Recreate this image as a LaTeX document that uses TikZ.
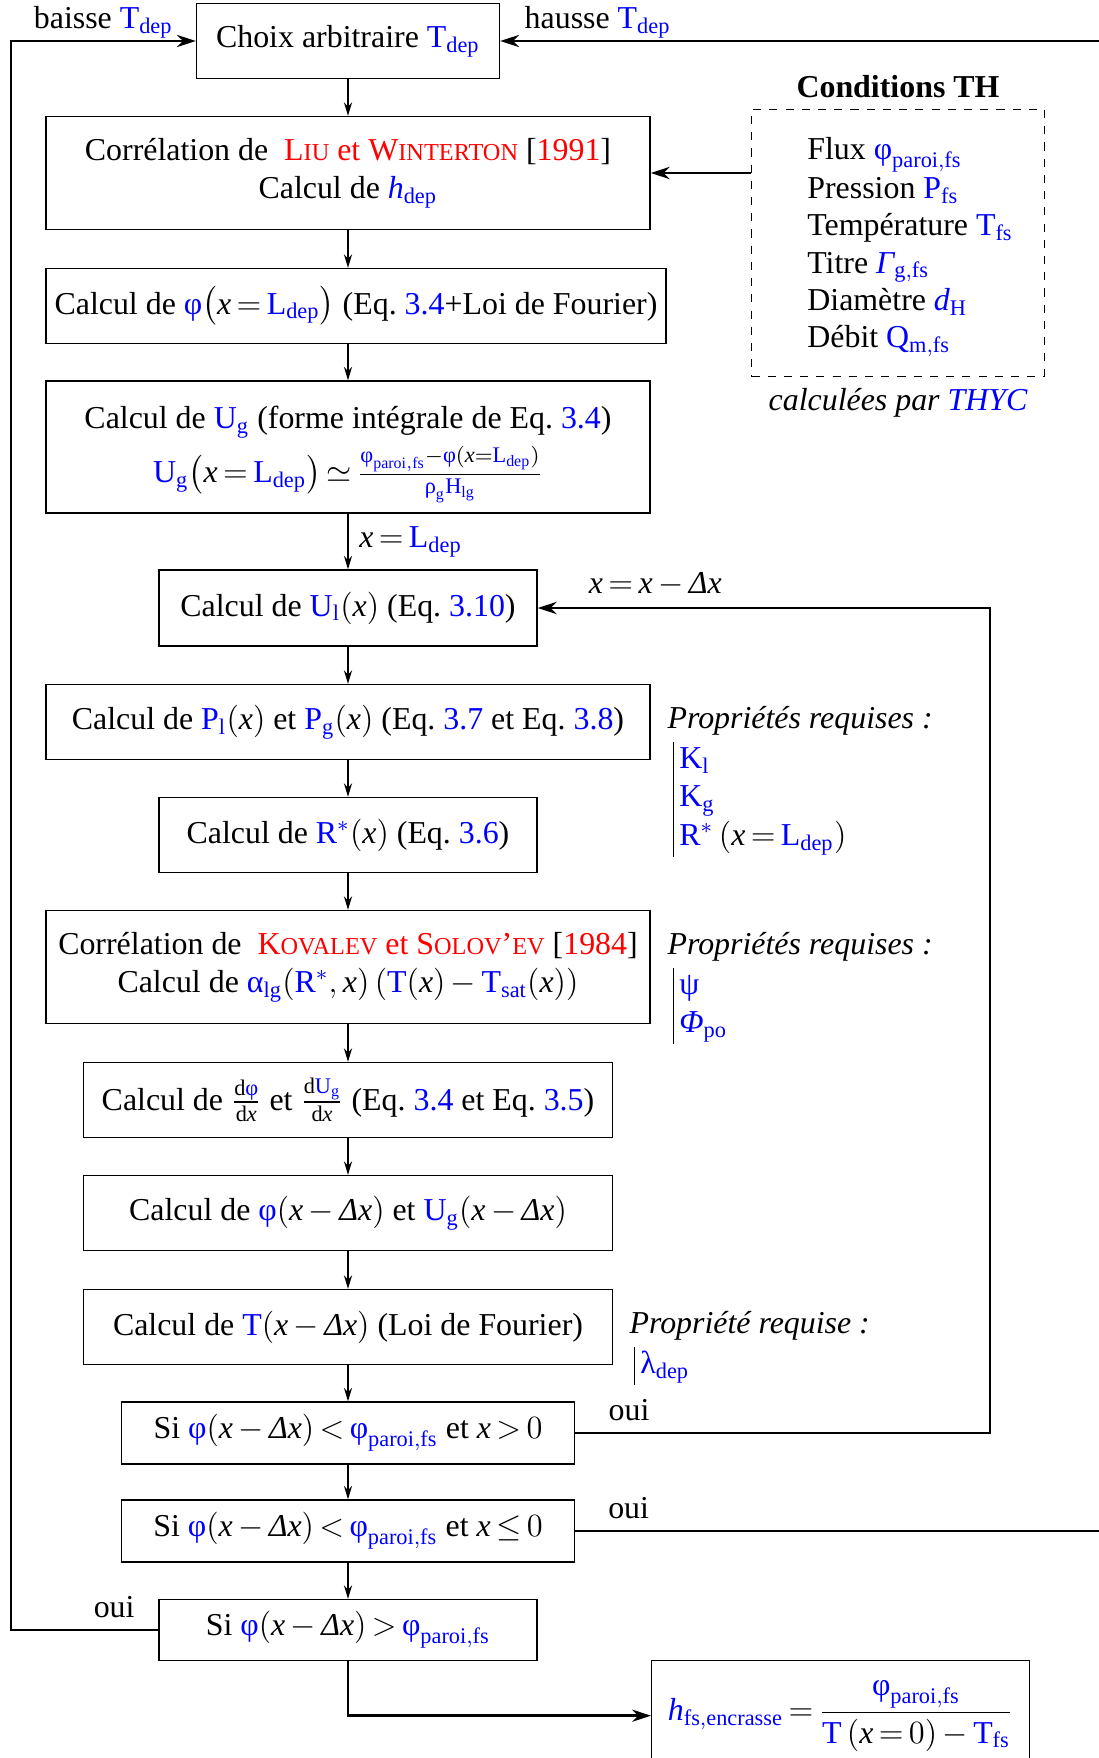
\documentclass[tikz,border=0pt]{standalone}
\usepackage{amsmath}
\usepackage{fontspec}
\setmainfont{Liberation Serif}
\usetikzlibrary{arrows.meta, positioning, calc}
\newcommand{\pxl}{0.37pt}
\newcommand{\blu}[1]{\textcolor{blue}{#1}}
\newcommand{\fsc}[1]{{\fontsize{9}{11}\selectfont #1}}
\newcommand{\vx}{\mathit{x}}
\newcommand{\gphi}{\text{φ}}
\newcommand{\dx}{\text{\itshape Δ}\vx}
\newcommand{\Tdep}{\blu{\mathrm{T}_{\mathrm{dep}}}}
\newcommand{\Ldep}{\blu{\mathrm{L}_{\mathrm{dep}}}}
\newcommand{\Ug}{\blu{\mathrm{U}_{\mathrm{g}}}}
\newcommand{\phiparoi}{\blu{\gphi_{\mathrm{paroi,fs}}}}
\tikzset{
  % Boites
  stepbox/.style={rectangle, draw, line width=0.5pt, align=center, inner sep=1pt},
  condbox/.style={rectangle, draw, dashed, line width=0.6pt, inner sep=0pt},
  proptitle/.style={anchor=west, inner sep=0pt, font=\itshape},
  proplist/.style={anchor=north west, inner sep=0pt},
  % Fleches
  arrow/.style={-{Stealth[length=5pt, width=3pt]}, line width=0.5pt},
  looparrow/.style={-{Stealth[length=7pt, width=4.5pt]}, line width=1pt}
}
\begin{document}
\fontsize{11.8}{14.2}\selectfont
\thickmuskip=3mu plus 2mu
\medmuskip=3mu plus 1mu minus 1mu
\begin{tikzpicture}[x=\pxl, y=-\pxl]
  \useasboundingbox (0,0) rectangle (1098,1758);
  \coordinate (axis) at (348,0);
  \coordinate (leftx) at (11,0);
  \coordinate (loopx) at (990,0);
  \coordinate (rightx) at (1110,0);

  % Etapes
  \node[stepbox, minimum width=303*\pxl, minimum height=75*\pxl] (choix) at (348,41) {Choix arbitraire $\Tdep$};
  \node[stepbox, minimum width=604*\pxl, minimum height=113*\pxl] (liu) at (348,173)
    {Corr\'elation de~ \textcolor{red}{L\fsc{IU} et W\fsc{INTERTON}} [\textcolor{red}{1991}]\\
     Calcul de $\blu{\mathit{h}_{\mathrm{dep}}}$};
  \node[stepbox, minimum width=620*\pxl, minimum height=75*\pxl] (phidep) at (356,306)
    {Calcul de $\blu{\gphi}\bigl(\vx=\Ldep\bigr)$ (Eq.~\blu{3.4}+Loi de Fourier)};
  \node[stepbox, minimum width=604*\pxl, minimum height=132*\pxl] (ug) at (348,447)
    {\rule{0pt}{14pt}Calcul de $\Ug$ (forme int\'egrale de Eq.~\blu{3.4})\\[2pt]
     $\Ug\bigl(\vx=\Ldep\bigr)\simeq\frac{\phiparoi-\blu{\gphi}(\vx=\Ldep)}{\blu{\text{ρ}_{\mathrm{g}}\mathrm{H}_{\mathrm{lg}}}}$};
  \node[stepbox, minimum width=378*\pxl, minimum height=76*\pxl] (ul) at (348,608)
    {Calcul de $\blu{\mathrm{U}_{\mathrm{l}}}(\vx)$ (Eq.~\blu{3.10})};
  \node[stepbox, minimum width=604*\pxl, minimum height=75*\pxl] (pl) at (348,722)
    {Calcul de $\blu{\mathrm{P}_{\mathrm{l}}}(\vx)$ et $\blu{\mathrm{P}_{\mathrm{g}}}(\vx)$ (Eq.~\blu{3.7} et Eq.~\blu{3.8})};
  \node[stepbox, minimum width=378*\pxl, minimum height=75*\pxl] (rstar) at (348,835)
    {Calcul de $\blu{\mathrm{R}^*}(\vx)$ (Eq.~\blu{3.6})};
  \node[stepbox, minimum width=604*\pxl, minimum height=113*\pxl] (kov) at (348,967)
    {Corr\'elation de~ \textcolor{red}{K\fsc{OVALEV} et S\fsc{OLOV}’\fsc{EV}} [\textcolor{red}{1984}]\\
     Calcul de $\blu{\text{α}_{\mathrm{lg}}}(\blu{\mathrm{R}^*},\vx)\,(\blu{\mathrm{T}}(\vx)-\blu{\mathrm{T}_{\mathrm{sat}}}(\vx))$};
  \node[stepbox, minimum width=529*\pxl, minimum height=75*\pxl] (dphi) at (348,1100)
    {Calcul de $\frac{\mathrm{d}\blu{\gphi}}{\mathrm{d}\vx}$ et $\frac{\mathrm{d}\Ug}{\mathrm{d}\vx}$ (Eq.~\blu{3.4} et Eq.~\blu{3.5})};
  \node[stepbox, minimum width=529*\pxl, minimum height=75*\pxl] (phidx) at (348,1213)
    {Calcul de $\blu{\gphi}(\vx-\dx)$ et $\Ug(\vx-\dx)$};
  \node[stepbox, minimum width=529*\pxl, minimum height=75*\pxl] (tdx) at (348,1327)
    {Calcul de $\blu{\mathrm{T}}(\vx-\dx)$ (Loi de Fourier)};
  \node[stepbox, minimum width=453*\pxl, minimum height=62*\pxl] (sia) at (348,1433)
    {Si $\blu{\gphi}(\vx-\dx)<\phiparoi$ et $\vx>0$};
  \node[stepbox, minimum width=453*\pxl, minimum height=62*\pxl] (sib) at (348,1531)
    {Si $\blu{\gphi}(\vx-\dx)<\phiparoi$ et $\vx\leq 0$};
  \node[stepbox, minimum width=378*\pxl, minimum height=61*\pxl] (sic) at (348,1630)
    {Si $\blu{\gphi}(\vx-\dx)>\phiparoi$};
  \node[stepbox, minimum width=378*\pxl, minimum height=110*\pxl, anchor=north west] (hres) at (651,1660)
    {$\blu{\mathit{h}_{\mathrm{fs,encrasse}}}=\dfrac{\phiparoi}{\blu{\mathrm{T}}\,(\vx=0)-\blu{\mathrm{T}_{\mathrm{fs}}}}$};

  % Conditions TH
  \node[condbox, minimum width=293*\pxl, minimum height=267*\pxl,
    label={[font=\bfseries]above:Conditions TH},
    label={[font=\itshape]below:calcul\'ees par \blu{THYC}}] (cond) at (898,243)
    {\renewcommand{\arraystretch}{0.97}%
     \begin{tabular}{@{\hspace{9pt}}l@{}}
       \rule{0pt}{12pt}Flux $\phiparoi$\\
       Pression $\blu{\mathrm{P}_{\mathrm{fs}}}$\\
       Temp\'erature $\blu{\mathrm{T}_{\mathrm{fs}}}$\\
       Titre $\blu{\text{\itshape Γ}_{\mathrm{g,fs}}}$\\
       Diam\`etre $\blu{\mathit{d}_{\mathrm{H}}}$\\
       D\'ebit $\blu{\mathrm{Q}_{\mathrm{m,fs}}}$
     \end{tabular}};

  % Proprietes
  \node[proptitle] (propa) at (667,721) {Propri\'et\'es requises :};
  \node[proplist] (lista) at (673,741)
    {\begin{tabular}{|@{\,}l}$\blu{\mathrm{K}_{\mathrm{l}}}$\\ $\blu{\mathrm{K}_{\mathrm{g}}}$\\ $\blu{\mathrm{R}^*}\,(\vx=\Ldep)$\end{tabular}};
  \node[proptitle] (propb) at (667,947) {Propri\'et\'es requises :};
  \node[proplist] (listb) at (673,967)
    {\begin{tabular}{|@{\,}l}$\blu{\text{ψ}}$\\ $\blu{\text{\itshape Φ}_{\mathrm{po}}}$\end{tabular}};
  \node[proptitle] (propc) at (629,1326) {Propri\'et\'e requise :};
  \node[proplist] (listc) at (634,1346)
    {\begin{tabular}{|@{\,}l}$\blu{\text{λ}_{\mathrm{dep}}}$\end{tabular}};

  % Liaisons
  \foreach \a/\b in {choix/liu, liu/phidep, phidep/ug, ul/pl, pl/rstar, rstar/kov, kov/dphi, dphi/phidx, phidx/tdx, tdx/sia, sia/sib, sib/sic}
    \draw[arrow] (\a.south -| axis) -- (\b.north -| axis);
  \draw[arrow] (ug.south -| axis) -- (ul.north -| axis) node[midway, right] {$\vx=\Ldep$};
  \draw[looparrow] (cond.west |- liu.east) -- (liu.east);
  \draw[looparrow] (sic.west) -- (sic.west -| leftx) node[pos=0.3, above] {oui}
    |- (choix.west) node[pos=0.75, above, inner sep=0.5pt] {baisse $\Tdep$};
  \draw[looparrow] (sia.east) -- (sia.east -| loopx) node[pos=0.13, above] {oui}
    |- (ul.east) node[pos=0.87, above] {$\vx=\vx-\dx$};
  \draw[looparrow] (sib.east) -- (sib.east -| rightx) node[pos=0.1, above] {oui}
    |- (choix.east) node[pos=0.92, above, inner sep=0.5pt] {hausse $\Tdep$};
  \draw[looparrow] (sic.south) |- (hres.west);
\end{tikzpicture}
\end{document}
